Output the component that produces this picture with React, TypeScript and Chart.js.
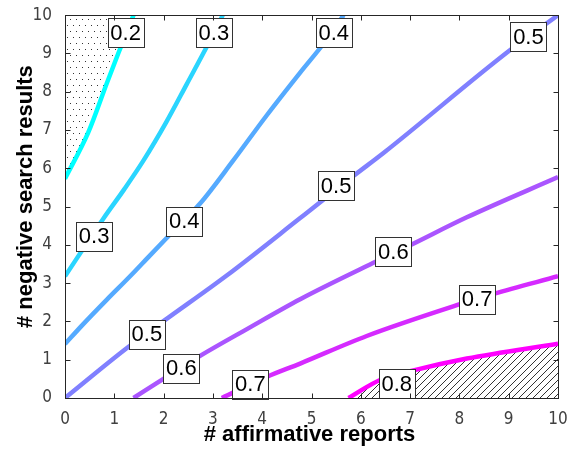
import React, { useEffect, useRef } from 'react';
import { Chart, registerables } from 'chart.js';

Chart.register(...registerables);

// ---- axis ticks ----
const xTickValues = [0, 1, 2, 3, 4, 5, 6, 7, 8, 9, 10];
const yTickValues = [0, 1, 2, 3, 4, 5, 6, 7, 8, 9, 10];

// ---- contour levels ----
const levels = [0.2, 0.3, 0.4, 0.5, 0.6, 0.7, 0.8];
const levelColors = ['#00FFFF', '#2AD5FF', '#55AAFF', '#8080FF', '#AA55FF', '#D52AFF', '#FF00FF'];

// ---- contour lines ----
const c02X = [0, 0.47, 0.85, 1.08, 1.39];
const c02Y = [5.73, 6.93, 8.23, 9.0, 10];

const c03X = [0, 0.78, 1.2, 1.59, 2.06, 2.47, 2.91, 3.2];
const c03Y = [3.18, 4.69, 5.45, 6.2, 7.22, 8.2, 9.26, 10];

const c04X = [0, 0.37, 0.85, 1.32, 1.72, 2.13, 2.74, 3.41, 4.09, 4.77, 5.27, 5.65];
const c04Y = [1.41, 1.93, 2.57, 3.18, 3.72, 4.27, 5.08, 6.2, 7.38, 8.5, 9.3, 10];

const c05X = [0, 1.25, 1.99, 3.28, 4.77, 5.85, 6.46, 9.03, 10];
const c05Y = [0, 1.3, 2.0, 3.2, 4.7, 5.8, 6.4, 9.09, 10];

const c06X = [1.39, 2.06, 2.74, 3.69, 4.77, 6.32, 7.0, 8.15, 10];
const c06Y = [0, 0.55, 1.1, 1.8, 2.58, 3.57, 3.99, 4.72, 5.77];

const c07X = [3.18, 4.09, 4.77, 6.12, 8.01, 8.69, 10];
const c07Y = [0, 0.55, 0.9, 1.62, 2.45, 2.72, 3.18];

const c08X = [5.75, 6.39, 7.07, 8.15, 10];
const c08Y = [0, 0.47, 0.72, 1.03, 1.42];

// ---- inline contour labels ----
const labelText = ['0.2', '0.3', '0.4', '0.5', '0.5', '0.3', '0.4', '0.5', '0.6', '0.7', '0.6', '0.7', '0.8'];
const labelX = [1.23, 3.02, 5.45, 9.40, 5.50, 0.59, 2.42, 1.66, 2.36, 3.76, 6.66, 8.36, 6.73];
const labelY = [9.54, 9.54, 9.54, 9.44, 5.55, 4.23, 4.62, 1.67, 0.78, 0.36, 3.82, 2.58, 0.37];

const xTitle = '# affirmative reports';
const yTitle = '# negative search results';

function pts(xs: number[], ys: number[]) {
  return xs.map((x, i) => ({ x, y: ys[i] }));
}

function makeDotPattern(): CanvasPattern | string {
  const c = document.createElement('canvas');
  c.width = 6;
  c.height = 12;
  const g = c.getContext('2d');
  if (!g) return 'rgba(0,0,0,0)';
  g.fillStyle = '#333333';
  g.fillRect(1, 1, 1, 1);
  g.fillRect(4, 7, 1, 1);
  const p = g.createPattern(c, 'repeat');
  return p || 'rgba(0,0,0,0)';
}

function makeHatchPattern(): CanvasPattern | string {
  const s = 7;
  const c = document.createElement('canvas');
  c.width = s;
  c.height = s;
  const g = c.getContext('2d');
  if (!g) return 'rgba(0,0,0,0)';
  g.strokeStyle = '#333333';
  g.lineWidth = 1;
  g.beginPath();
  g.moveTo(0, s);
  g.lineTo(s, 0);
  g.moveTo(-1, 1);
  g.lineTo(1, -1);
  g.moveTo(s - 1, s + 1);
  g.lineTo(s + 1, s - 1);
  g.stroke();
  const p = g.createPattern(c, 'repeat');
  return p || 'rgba(0,0,0,0)';
}

const frameAndLabels = {
  id: 'frameAndLabels',
  afterDatasetsDraw(chart: any) {
    const { ctx, chartArea, scales } = chart;
    const xs = scales.x;
    const ys = scales.y;
    ctx.save();
    // inline labels
    ctx.font = '22px "Liberation Sans", Arial, sans-serif';
    ctx.textAlign = 'center';
    ctx.textBaseline = 'middle';
    for (let i = 0; i < labelText.length; i++) {
      const px = xs.getPixelForValue(labelX[i]);
      const py = ys.getPixelForValue(labelY[i]);
      const w = Math.round(ctx.measureText(labelText[i]).width + 5);
      const h = 29;
      const l = Math.round(px - w / 2) + 0.5;
      const t = Math.round(py - h / 2) + 0.5;
      ctx.fillStyle = '#ffffff';
      ctx.fillRect(l, t, w, h);
      ctx.strokeStyle = '#333333';
      ctx.lineWidth = 1;
      ctx.strokeRect(l, t, w, h);
      ctx.fillStyle = '#000000';
      ctx.fillText(labelText[i], px, py + 1);
    }
    // box
    const L = Math.round(chartArea.left) + 0.5;
    const R = Math.round(chartArea.right) + 0.5;
    const T = Math.round(chartArea.top) + 0.5;
    const B = Math.round(chartArea.bottom) + 0.5;
    ctx.strokeStyle = '#262626';
    ctx.lineWidth = 1;
    ctx.strokeRect(L, T, R - L, B - T);
    const tl = 5;
    ctx.beginPath();
    for (const v of xTickValues) {
      const px = Math.round(xs.getPixelForValue(v)) + 0.5;
      ctx.moveTo(px, B);
      ctx.lineTo(px, B - tl);
      ctx.moveTo(px, T);
      ctx.lineTo(px, T + tl);
    }
    for (const v of yTickValues) {
      const py = Math.round(ys.getPixelForValue(v)) + 0.5;
      ctx.moveTo(L, py);
      ctx.lineTo(L + tl, py);
      ctx.moveTo(R, py);
      ctx.lineTo(R - tl, py);
    }
    ctx.stroke();
    // axis titles
    ctx.fillStyle = '#000000';
    ctx.font = 'bold 22px "Liberation Sans", Arial, sans-serif';
    ctx.textAlign = 'center';
    ctx.textBaseline = 'alphabetic';
    ctx.fillText(xTitle, (chartArea.left + chartArea.right) / 2 - 2, 441);
    ctx.translate(32, (chartArea.top + chartArea.bottom) / 2 - 10);
    ctx.rotate(-Math.PI / 2);
    ctx.fillText(yTitle, 0, 0);
    ctx.restore();
  },
};

export default function App() {
  const ref = useRef<HTMLCanvasElement>(null);
  useEffect(() => {
    document.body.style.margin = '0';
    const canvas = ref.current;
    if (!canvas) return;
    const dots = makeDotPattern();
    const hatch = makeHatchPattern();
    const series = [
      pts(c02X, c02Y),
      pts(c03X, c03Y),
      pts(c04X, c04Y),
      pts(c05X, c05Y),
      pts(c06X, c06Y),
      pts(c07X, c07Y),
      pts(c08X, c08Y),
    ];
    const datasets = series.map((d, i) => ({
      label: String(levels[i]),
      data: d,
      borderColor: levelColors[i],
      borderWidth: 4.5,
      pointRadius: 0,
      cubicInterpolationMode: 'monotone',
      backgroundColor: i === 0 ? dots : i === 6 ? hatch : 'rgba(0,0,0,0)',
      fill: i === 0 ? 'end' : i === 6 ? 'start' : false,
    }));
    const tickFont = { family: '"Liberation Sans Narrow", "DejaVu Sans Condensed", Arial, sans-serif', size: 17 };
    const chart = new Chart(canvas, {
      type: 'line',
      data: { datasets: datasets as any },
      plugins: [frameAndLabels],
      options: {
        animation: false,
        responsive: false,
        layout: { padding: { top: 12, right: 13, left: 0, bottom: 0 } },
        plugins: { legend: { display: false }, tooltip: { enabled: false } },
        scales: {
          x: {
            type: 'linear',
            min: 0,
            max: 10,
            afterFit: (s: any) => { s.height = 51; },
            afterBuildTicks: (s: any) => { s.ticks = xTickValues.map((v) => ({ value: v })); },
            grid: { display: false },
            border: { display: false },
            ticks: { padding: 3, color: '#404040', font: tickFont, maxRotation: 0 },
          },
          y: {
            type: 'linear',
            min: 0,
            max: 10,
            afterFit: (s: any) => { s.width = 65; },
            afterBuildTicks: (s: any) => { s.ticks = yTickValues.map((v) => ({ value: v })); },
            grid: { display: false },
            border: { display: false },
            ticks: { padding: 5, color: '#404040', font: tickFont },
          },
        },
      },
    });
    return () => chart.destroy();
  }, []);
  return (
    <div style={{ position: 'absolute', left: 0, top: 0, width: 571, height: 449, background: '#ffffff' }}>
      <canvas ref={ref} width={571} height={449} style={{ display: 'block' }} />
    </div>
  );
}
